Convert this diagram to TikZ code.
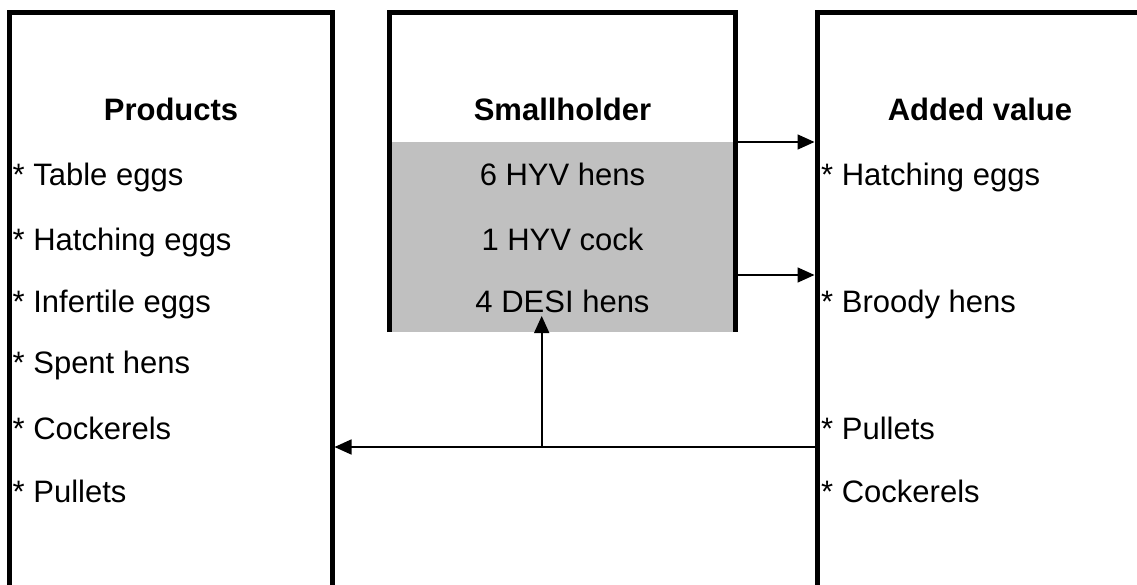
\documentclass[tikz,border=0pt]{standalone}
\usepackage{fontspec}
\setmainfont{Liberation Sans}
\usetikzlibrary{arrows.meta}
\definecolor{boxgray}{RGB}{192,192,192}
\tikzset{
  panel/.style={draw=none, fill=none, inner sep=0pt, outer sep=0pt, rectangle},
  border/.style={line width=5pt, line cap=butt, line join=miter},
  item/.style={anchor=base west, inner sep=0pt, font=\fontsize{31}{37}\selectfont},
  citem/.style={anchor=base, inner sep=0pt, font=\fontsize{31}{37}\selectfont},
  title/.style={anchor=base, inner sep=0pt, font=\fontsize{31}{37}\selectfont\bfseries},
  arr/.style={line width=1.6pt, -{Triangle[length=17pt,width=15pt]}},
}
\begin{document}
\begin{tikzpicture}[x=1pt,y=-1pt]
\useasboundingbox (0,0) rectangle (1137,585);
\clip (0,0) rectangle (1137,585);
% panels (open boxes)
\node[panel, minimum width=322.5pt, minimum height=600pt, anchor=north west] (L) at (9.5,12.5) {};
\node[panel, minimum width=346pt, minimum height=319.5pt, anchor=north west] (M) at (389.5,12.5) {};
\node[panel, minimum width=323pt, minimum height=600pt, anchor=north west] (R) at (817,12.5) {};
% gray part of the smallholder box
\fill[boxgray] (389.5,142) rectangle (M.south east);
\draw[border] (L.south west) -- (L.north west) -- (L.north east) -- (L.south east);
\draw[border] (M.south west) -- (M.north west) -- (M.north east) -- (M.south east);
\draw[border] (R.south west) -- (R.north west) -- (R.north east);
% titles
\node[title] (tL) at (171,121) {Products};
\node[title] (tM) at (562.5,121) {Smallholder};
\node[title] (tR) at (980,121) {Added value};
% left list
\node[item] (l1) at (12.5,186) {* Table eggs};
\node[item] (l2) at (12.5,251) {* Hatching eggs};
\node[item] (l3) at (12.5,312) {* Infertile eggs};
\node[item] (l4) at (12.5,373) {* Spent hens};
\node[item] (l5) at (12.5,439) {* Cockerels};
\node[item] (l6) at (12.5,502) {* Pullets};
% middle list
\node[citem] (m1) at (562.5,186) {6 HYV hens};
\node[citem] (m2) at (562.5,251) {1 HYV cock};
\node[citem] (m3) at (562.5,312) {4 DESI hens};
% right list
\node[item] (r1) at (821,186) {* Hatching eggs};
\node[item] (r2) at (821,312) {* Broody hens};
\node[item] (r3) at (821,439) {* Pullets};
\node[item] (r4) at (821,502) {* Cockerels};
% connectors
\coordinate (a1) at (735.5,142);
\coordinate (a2) at (735.5,275);
\draw[arr, shorten >=2.5pt] (a1) -- (R.west |- a1);
\draw[arr, shorten >=2.5pt] (a2) -- (R.west |- a2);
\coordinate (b) at (817,447);
\coordinate (j) at (541.7,447);
\coordinate (up) at (541.7,316);
\draw[arr, shorten >=2.5pt] (b) -- (L.east |- b);
\draw[arr] (j) -- (up);
\end{tikzpicture}
\end{document}
